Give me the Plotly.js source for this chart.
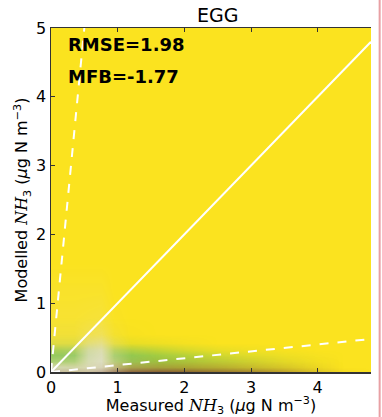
<!DOCTYPE html>
<html><head><meta charset="utf-8">
<script src="https://cdn.plot.ly/plotly-3.0.1.min.js"></script>
<style>html,body{margin:0;padding:0;background:#fff}#chart{width:382px;height:417px}</style>
</head><body><div id="chart"></div>
<script>
// Density grid (bin centres)
var xCenters = [0, 0.15, 0.35, 0.55, 0.75, 0.95, 1.2, 1.6, 2.0, 2.5, 3.0, 3.5, 4.0, 4.4, 4.8];
var yCenters = [0, 0.08, 0.16, 0.24, 0.32, 0.42, 0.55, 0.8, 1.2, 1.6, 2.2, 5];
var greenLayer = [
  [0.30,0.30,0.30,0.20,0.10,0.20,0.30,0.30,0.30,0.25,0.20,0.10,0.05,0,0],
  [0.50,0.50,0.50,0.30,0.15,0.35,0.50,0.50,0.45,0.35,0.25,0.15,0.05,0,0],
  [0.80,0.80,0.80,0.50,0.30,0.70,0.80,0.70,0.60,0.45,0.30,0.15,0.05,0,0],
  [0.90,0.90,0.90,0.60,0.35,0.80,0.85,0.70,0.55,0.35,0.20,0.10,0.03,0,0],
  [0.70,0.70,0.70,0.50,0.30,0.60,0.60,0.45,0.30,0.15,0.08,0.03,0,0,0],
  [0.20,0.20,0.20,0.15,0.10,0.15,0.15,0.10,0.05,0,0,0,0,0,0],
  [0.05,0.05,0.05,0.03,0.02,0.03,0.02,0,0,0,0,0,0,0,0],
  [0,0,0,0,0,0,0,0,0,0,0,0,0,0,0],
  [0,0,0,0,0,0,0,0,0,0,0,0,0,0,0],
  [0,0,0,0,0,0,0,0,0,0,0,0,0,0,0],
  [0,0,0,0,0,0,0,0,0,0,0,0,0,0,0],
  [0,0,0,0,0,0,0,0,0,0,0,0,0,0,0]
];
var greyLayer = [
  [0.80,0.80,0.75,0.80,0.85,0.70,0.30,0.10,0,0,0,0,0,0,0],
  [0.75,0.75,0.70,0.80,0.85,0.60,0.20,0.05,0,0,0,0,0,0,0],
  [0.30,0.30,0.35,0.75,0.85,0.40,0.10,0,0,0,0,0,0,0,0],
  [0.15,0.15,0.20,0.70,0.80,0.30,0.05,0,0,0,0,0,0,0,0],
  [0.15,0.15,0.20,0.65,0.75,0.25,0.05,0,0,0,0,0,0,0,0],
  [0.15,0.15,0.15,0.45,0.55,0.18,0,0,0,0,0,0,0,0,0],
  [0.12,0.12,0.12,0.25,0.30,0.08,0,0,0,0,0,0,0,0,0],
  [0.10,0.10,0.10,0.12,0.14,0.03,0,0,0,0,0,0,0,0,0],
  [0.06,0.06,0.06,0.06,0.06,0,0,0,0,0,0,0,0,0,0],
  [0,0,0,0,0,0,0,0,0,0,0,0,0,0,0],
  [0,0,0,0,0,0,0,0,0,0,0,0,0,0,0],
  [0,0,0,0,0,0,0,0,0,0,0,0,0,0,0]
];
var brownLayer = [
  [0.20,0.20,0.20,0.20,0.30,0.55,0.75,0.80,0.75,0.65,0.55,0.40,0.18,0.05,0],
  [0.03,0.03,0.03,0.03,0.06,0.22,0.32,0.32,0.30,0.26,0.20,0.14,0.06,0,0],
  [0,0,0,0,0,0.04,0.06,0.08,0.08,0.06,0.05,0.03,0.01,0,0],
  [0,0,0,0,0,0,0,0,0,0,0,0,0,0,0],
  [0,0,0,0,0,0,0,0,0,0,0,0,0,0,0],
  [0,0,0,0,0,0,0,0,0,0,0,0,0,0,0],
  [0,0,0,0,0,0,0,0,0,0,0,0,0,0,0],
  [0,0,0,0,0,0,0,0,0,0,0,0,0,0,0],
  [0,0,0,0,0,0,0,0,0,0,0,0,0,0,0],
  [0,0,0,0,0,0,0,0,0,0,0,0,0,0,0],
  [0,0,0,0,0,0,0,0,0,0,0,0,0,0,0],
  [0,0,0,0,0,0,0,0,0,0,0,0,0,0,0]
];
// reference lines: 1:1, 10:1, 1:10
var oneToOne = {x:[0,4.8], y:[0,4.8]};
var tenToOne = {x:[0,0.5], y:[0,5]};
var oneToTen = {x:[0,4.8], y:[0,0.48]};
var stats = ["RMSE=1.98", "MFB=-1.77"];
var xTicks = [0,1,2,3,4];
var yTicks = [0,1,2,3,4,5];

function layer(z, rgb){
  return {type:'heatmap', x:xCenters, y:yCenters, z:z, zsmooth:'best', zmin:0, zmax:1,
    showscale:false, hoverinfo:'skip',
    colorscale:[[0,'rgba('+rgb+',0)'],[1,'rgba('+rgb+',1)']]};
}
var traces = [
  layer(greenLayer, '125,194,80'),
  layer(greyLayer, '222,222,218'),
  layer(brownLayer, '110,56,50'),
  {type:'scatter', mode:'lines', x:oneToOne.x, y:oneToOne.y, line:{color:'#fff', width:2}, hoverinfo:'skip'},
  {type:'scatter', mode:'lines', x:tenToOne.x, y:tenToOne.y, line:{color:'#fff', width:2, dash:'dash'}, hoverinfo:'skip'},
  {type:'scatter', mode:'lines', x:oneToTen.x, y:oneToTen.y, line:{color:'#fff', width:2, dash:'dash'}, hoverinfo:'skip'}
];
var font = 'DejaVu Sans, sans-serif';
var layout = {
  width:382, height:417, showlegend:false,
  margin:{l:51, r:11, t:28, b:45},
  paper_bgcolor:'#fff', plot_bgcolor:'#fbe31f',
  font:{family:font, size:16, color:'#000'},
  title:{text:'EGG', font:{family:font, size:19, color:'#000'}, x:0.57, xanchor:'center', y:0.962, yanchor:'middle'},
  xaxis:{range:[0,4.8], tickvals:xTicks, ticks:'inside', ticklen:4, tickcolor:'#333',
         showline:true, linecolor:'#333', linewidth:1.5, mirror:'allticks', showgrid:false, zeroline:false,
         tickfont:{size:16},
         title:{text:"Measured <i><span style='font-family:DejaVu Serif'>NH</span></i><sub>3</sub> (<i>μ</i>g N m<sup>−3</sup>)", font:{size:16}, standoff:7}},
  yaxis:{range:[0,5], tickvals:yTicks, ticks:'inside', ticklen:4, tickcolor:'#333',
         showline:true, linecolor:'#333', linewidth:1.5, showgrid:false, zeroline:false,
         tickfont:{size:16},
         title:{text:"Modelled <i><span style='font-family:DejaVu Serif'>NH</span></i><sub>3</sub> (<i>μ</i>g N m<sup>−3</sup>)", font:{size:16}, standoff:4}},
  annotations:[
    {text:'<b>'+stats[0]+'</b>', xref:'paper', yref:'paper', x:0.048, y:0.952, xanchor:'left', yanchor:'middle', showarrow:false, font:{family:font, size:18, color:'#000'}},
    {text:'<b>'+stats[1]+'</b>', xref:'paper', yref:'paper', x:0.048, y:0.858, xanchor:'left', yanchor:'middle', showarrow:false, font:{family:font, size:18, color:'#000'}}
  ],
  shapes:[
    {type:'line', xref:'paper', yref:'paper', x0:1.027, x1:1.027, y0:-0.2, y1:1.1, line:{color:'#e8a0a4', width:2}}
  ]
};
Plotly.newPlot('chart', traces, layout, {staticPlot:true});
</script></body></html>
